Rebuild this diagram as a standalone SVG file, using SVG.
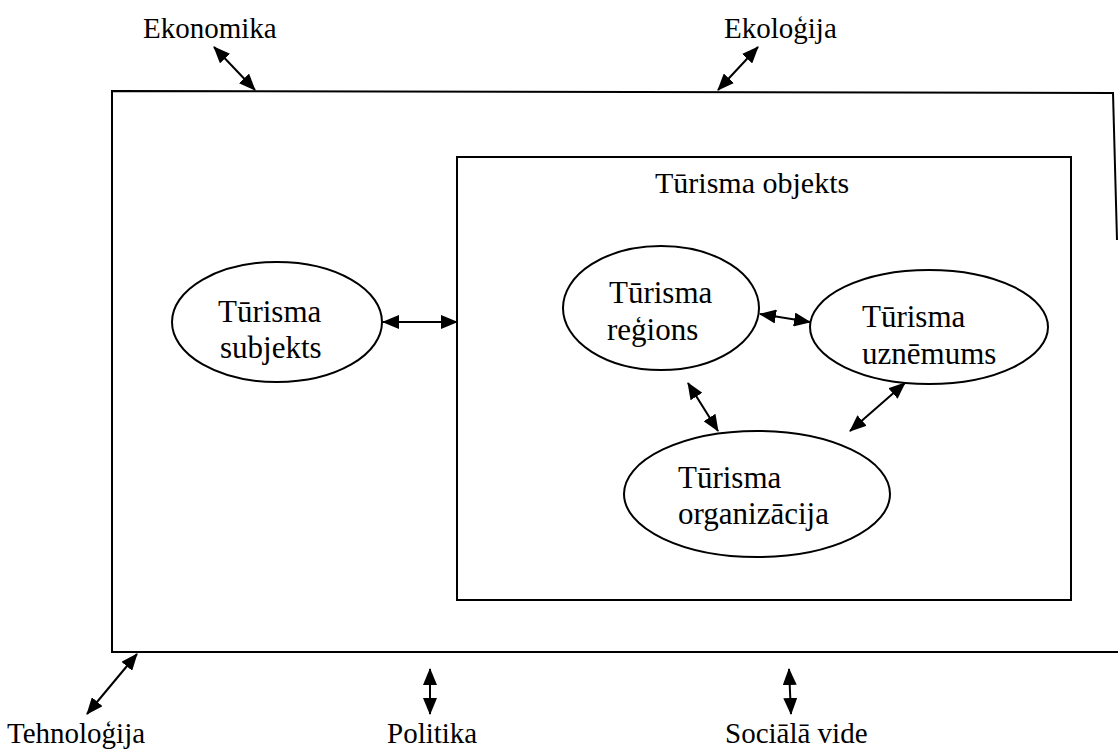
<svg xmlns="http://www.w3.org/2000/svg" width="1118" height="751" viewBox="0 0 1118 751">
<style>
.ln{fill:none;stroke:#000;stroke-width:2}
.nd{fill:#fff;stroke:#000;stroke-width:2}
.ar{fill:none;stroke:#000;stroke-width:2;marker-start:url(#ah);marker-end:url(#ah)}
.t{font-family:"Liberation Serif","Times New Roman",serif;fill:#000}
.o{font-size:29px}
.e{font-size:31px}
</style>
<defs>
<marker id="ah" viewBox="0 0 17 14" refX="16" refY="7" markerWidth="17" markerHeight="14" markerUnits="userSpaceOnUse" orient="auto-start-reverse">
<path d="M0,0 L17,7 L0,14 Z" fill="#000"/>
</marker>
</defs>
<rect width="1118" height="751" fill="#fff"/>
<g id="outer">
<path class="ln" d="M1117,240 L1113,93 L112,91 L112,652 L1118,652"/>
</g>
<g id="inner">
<rect class="ln" x="457" y="157" width="614" height="443"/>
<text class="t" x="655" y="193" style="font-size:30px">Tūrisma objekts</text>
</g>
<g id="subjekts">
<ellipse class="nd" cx="277" cy="322" rx="105" ry="60"/>
<text class="t e" x="218" y="322">Tūrisma</text>
<text class="t e" x="220" y="358">subjekts</text>
</g>
<g id="regions">
<ellipse class="nd" cx="661" cy="308" rx="98" ry="62"/>
<text class="t e" x="609" y="303">Tūrisma</text>
<text class="t e" x="607" y="340">reģions</text>
</g>
<g id="uznemums">
<ellipse class="nd" cx="929" cy="327" rx="119" ry="57"/>
<text class="t e" x="862" y="327">Tūrisma</text>
<text class="t e" x="862" y="364">uznēmums</text>
</g>
<g id="organizacija">
<ellipse class="nd" cx="757" cy="494" rx="133" ry="63"/>
<text class="t e" x="678" y="488">Tūrisma</text>
<text class="t e" x="678" y="524">organizācija</text>
</g>
<g id="labels">
<text class="t o" x="143" y="38">Ekonomika</text>
<text class="t o" x="724" y="38">Ekoloģija</text>
<text class="t o" x="7" y="743">Tehnoloģija</text>
<text class="t o" x="387" y="743">Politika</text>
<text class="t o" x="725" y="743">Sociālā vide</text>
</g>
<g id="connectors">
<line class="ar" x1="383" y1="322" x2="457" y2="322"/>
<line class="ar" x1="760" y1="314" x2="810" y2="322"/>
<line class="ar" x1="688" y1="383" x2="718" y2="431"/>
<line class="ar" x1="905" y1="383" x2="850" y2="431"/>
<line class="ar" x1="214" y1="47" x2="255" y2="90"/>
<line class="ar" x1="758" y1="47" x2="718" y2="90"/>
<line class="ar" x1="137" y1="654" x2="87" y2="714"/>
<line class="ar" x1="430" y1="669" x2="430" y2="714"/>
<line class="ar" x1="789" y1="669" x2="791" y2="714"/>
</g>
</svg>
